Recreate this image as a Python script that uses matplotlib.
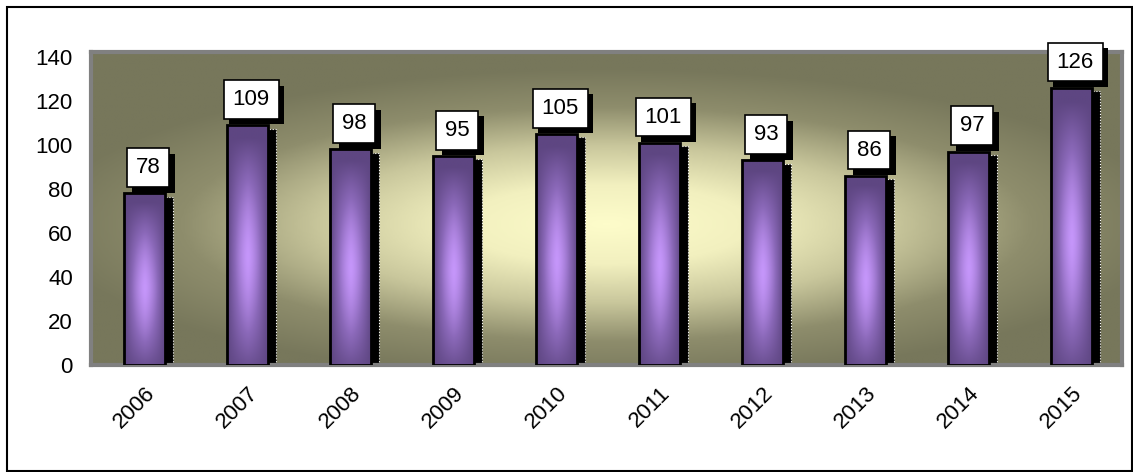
import numpy as np
import matplotlib.pyplot as plt
import matplotlib.patheffects as pe
from matplotlib.patches import Rectangle
from matplotlib.colors import LinearSegmentedColormap

plt.rcParams['font.family'] = ['Liberation Sans', 'DejaVu Sans']

# === data ===
years = ['2006', '2007', '2008', '2009', '2010', '2011', '2012', '2013', '2014', '2015']
counts = [78, 109, 98, 95, 105, 101, 93, 86, 97, 126]
yticks = [0, 20, 40, 60, 80, 100, 120, 140]

fig = plt.figure(figsize=(11.33, 4.72), dpi=100)
ax = fig.add_axes([91 / 1133, 1 - 365 / 472, (1122 - 91) / 1133, (365 - 52) / 472])

x = np.arange(len(years))
ax.set_xlim(-0.52, len(years) - 0.51)
ax.set_ylim(0, 142.3)

# fond : dégradé radial olive -> jaune clair
gx, gy = np.meshgrid(np.linspace(-1, 1, 400), np.linspace(-1, 1, 200))
r = np.sqrt((gx / 1.1) ** 2 + ((gy + 0.1) / 1.0) ** 2)
r = np.clip(r, 0, 1)
bg_cmap = LinearSegmentedColormap.from_list('bg', ['#fdfcca', '#f2f0bf', '#c9c79c', '#8e8d6c', '#77775b'])
ax.imshow(r, cmap=bg_cmap, extent=[0, 1, 0, 1], transform=ax.transAxes,
          aspect='auto', zorder=0, origin='lower', interpolation='bilinear')

for s in ax.spines.values():
    s.set_color('#808080')
    s.set_linewidth(3)

# ombres des barres
bw = 0.40
shadow = ax.bar(x + 0.075, [c - 1.5 for c in counts], width=bw, color='black',
                edgecolor='white', linestyle=':', linewidth=0.8, zorder=2)

# barres avec dégradé
bars = ax.bar(x, counts, width=bw, color='none', edgecolor='black', linewidth=2, zorder=4)
bar_cmap = LinearSegmentedColormap.from_list('bar', ['#5e4682', '#8a68b8', '#c596fa'])
u, v = np.meshgrid(np.linspace(-1, 1, 60), np.linspace(-1, 1, 200))
f = (1 - np.abs(u) ** 1.5) * (1 - np.abs(v + 0.1) ** 1.6)
for b in bars:
    im = ax.imshow(f, cmap=bar_cmap, vmin=0, vmax=1, aspect='auto', origin='lower',
                   extent=[b.get_x(), b.get_x() + b.get_width(), 0, b.get_height()],
                   zorder=3, interpolation='bilinear')
    im.set_clip_path(b)

# étiquettes de valeurs (boîte blanche + ombre noire)
for xi, c in zip(x, counts):
    t = ax.annotate(str(c), (xi + 0.035, c), xytext=(0, 11), textcoords='offset points',
                    ha='center', va='bottom', fontsize=16, color='black', zorder=6,
                    bbox=dict(boxstyle='square,pad=0.4', fc='white', ec='black', lw=1.2))
    t.get_bbox_patch().set_path_effects([
        pe.SimplePatchShadow(offset=(4, -4), shadow_rgbFace='black', alpha=1),
        pe.Normal()])

ax.set_yticks(yticks)
ax.set_xticks(x)
ax.set_xticklabels(years, rotation=45, ha='right', rotation_mode='anchor')
ax.tick_params(axis='both', length=0, labelsize=16)
ax.tick_params(axis='y', pad=13)
ax.tick_params(axis='x', pad=13)

fig.patches.append(Rectangle((7 / 1133, 1 / 472), 1125 / 1133, 464 / 472,
                             transform=fig.transFigure, fill=False, ec='black', lw=1.5))

fig.savefig('out.png', dpi=100)
